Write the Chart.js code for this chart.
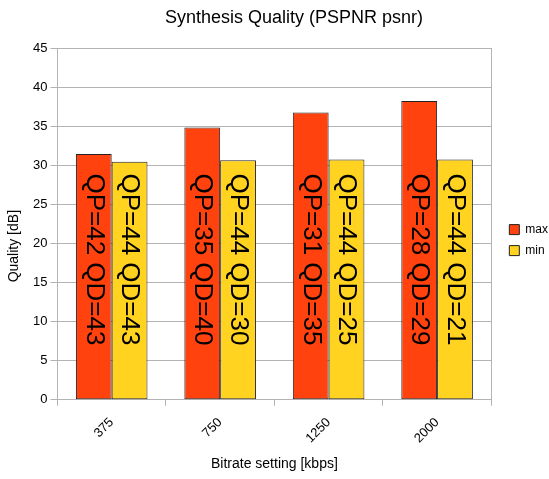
<!DOCTYPE html>
<html>
<head>
<meta charset="utf-8">
<script src="https://cdn.jsdelivr.net/npm/chart.js@4/dist/chart.umd.min.js"></script>
<style>
  html, body { margin: 0; padding: 0; background: #fff; }
  #wrap { width: 549px; height: 479px; }
</style>
</head>
<body>
<div id="wrap"><canvas id="quality-canvas"></canvas></div>
<script>
let bitrates = ['375', '750', '1250', '2000'];
let maxValues = [31.5, 34.9, 36.8, 38.3];
let minValues = [30.5, 30.7, 30.8, 30.8];
let maxNotes = ['QP=42 QD=43', 'QP=35 QD=40', 'QP=31 QD=35', 'QP=28 QD=29'];
let minNotes = ['QP=44 QD=43', 'QP=44 QD=30', 'QP=44 QD=25', 'QP=44 QD=21'];
let yTicks = [0, 5, 10, 15, 20, 25, 30, 35, 40, 45];

const FONT = "'Liberation Sans', Arial, sans-serif";
const GRID = '#b3b3b3';

// vertical notes inside the bars, reading top to bottom
let barNotes = {
    id: 'barNotes',
    afterDatasetsDraw(chart) {
        let ctx = chart.ctx;
        let y = chart.scales.y;
        let notes = [maxNotes, minNotes];
        ctx.save();
        ctx.font = '26px ' + FONT;
        ctx.fillStyle = '#000';
        ctx.textAlign = 'left';
        ctx.textBaseline = 'middle';
        for (let d = 0; d < 2; d++) {
            let meta = chart.getDatasetMeta(d);
            for (let i = 0; i < meta.data.length; i++) {
                let bar = meta.data[i];
                ctx.save();
                ctx.translate(bar.x, y.getPixelForValue(29));
                ctx.rotate(Math.PI / 2);
                ctx.fillText(notes[d][i], 0, 0);
                ctx.restore();
            }
        }
        ctx.restore();
    }
};

// y axis title sits a bit below the middle of the plot, like the original
let yTitle = {
    id: 'yTitle',
    afterDraw(chart) {
        let ctx = chart.ctx;
        let area = chart.chartArea;
        ctx.save();
        ctx.font = '14px ' + FONT;
        ctx.fillStyle = '#000';
        ctx.textAlign = 'center';
        ctx.textBaseline = 'middle';
        ctx.translate(14, (area.top + area.bottom) / 2 + 22);
        ctx.rotate(-Math.PI / 2);
        ctx.fillText('Quality [dB]', 0, 0);
        ctx.restore();
    }
};

new Chart(document.getElementById('quality-canvas'), {
    type: 'bar',
    data: {
        labels: bitrates,
        datasets: [{
            label: 'max',
            data: maxValues,
            backgroundColor: '#ff420e',
            borderColor: '#222',
            borderWidth: 1,
            borderSkipped: false
        }, {
            label: 'min',
            data: minValues,
            backgroundColor: '#ffd320',
            borderColor: '#222',
            borderWidth: 1,
            borderSkipped: false
        }]
    },
    options: {
        responsive: true,
        maintainAspectRatio: false,
        animation: false,
        datasets: {
            bar: { categoryPercentage: 0.66, barPercentage: 1.0 }
        },
        layout: { padding: { left: 30, right: -9, top: 0, bottom: 6 } },
        plugins: {
            title: {
                display: true,
                text: 'Synthesis Quality (PSPNR psnr)',
                color: '#000',
                font: { family: FONT, size: 18, weight: 'normal' },
                padding: { top: 7, bottom: 20 }
            },
            legend: {
                position: 'right',
                title: {
                    display: true,
                    text: ' ',
                    font: { size: 1 },
                    padding: { top: 0, bottom: 6 }
                },
                labels: {
                    color: '#000',
                    font: { family: FONT, size: 12 },
                    boxWidth: 10,
                    boxHeight: 10,
                    padding: 9
                }
            },
            tooltip: { enabled: false }
        },
        scales: {
            x: {
                grid: {
                    offset: true,
                    drawOnChartArea: false,
                    color: GRID,
                    tickLength: 6
                },
                border: { color: GRID },
                ticks: {
                    color: '#000',
                    font: { family: FONT, size: 13 },
                    minRotation: 45,
                    maxRotation: 45,
                    padding: 9
                },
                title: {
                    display: true,
                    text: 'Bitrate setting [kbps]',
                    color: '#000',
                    font: { family: FONT, size: 14 },
                    padding: { top: 1, bottom: 0 }
                }
            },
            y: {
                min: 0,
                max: 45,
                afterBuildTicks(axis) {
                    axis.ticks = yTicks.map(v => ({ value: v }));
                },
                grid: { color: GRID, tickLength: 7 },
                border: { color: GRID },
                ticks: {
                    color: '#000',
                    font: { family: FONT, size: 13 },
                    padding: 3
                }
            },
            y2: {
                position: 'right',
                min: 0,
                max: 45,
                afterFit(axis) { axis.width = 9; },
                grid: { drawOnChartArea: false, drawTicks: false },
                border: { color: GRID },
                ticks: { display: false }
            }
        }
    },
    plugins: [barNotes, yTitle]
});
</script>
</body>
</html>
